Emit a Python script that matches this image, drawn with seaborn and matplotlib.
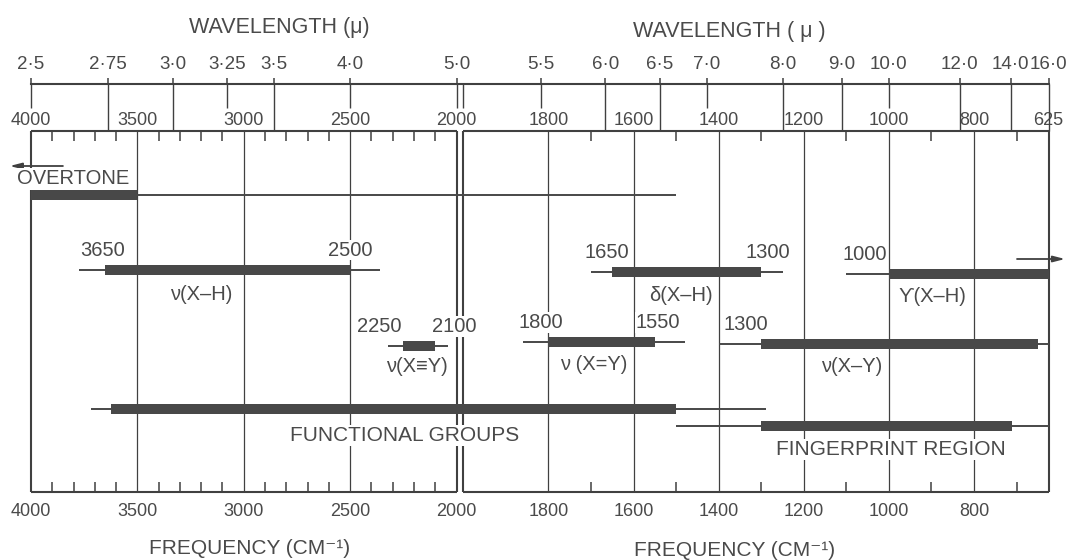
import numpy as np
import pandas as pd
import matplotlib
matplotlib.use("Agg")
import matplotlib.pyplot as plt
import seaborn as sns

# ---------------- data ----------------
WAVELENGTHS = [2.5, 2.75, 3.0, 3.25, 3.5, 4.0, 5.0, 5.5, 6.0, 6.5, 7.0, 8.0, 9.0, 10.0, 12.0, 14.0, 16.0]
WAVELENGTH_LABELS = ["2·5", "2·75", "3·0", "3·25", "3·5", "4·0", "5·0", "5·5", "6·0", "6·5",
                     "7·0", "8·0", "9·0", "10·0", "12·0", "14·0", "16·0"]
LONG_WAVELENGTH_TICKS = [2.75, 3.0, 3.5, 6.0, 6.5, 8.0, 9.0, 12.0, 14.0, 16.0]

FREQ_TOP_LABELS = [4000, 3500, 3000, 2500, 2000, 1800, 1600, 1400, 1200, 1000, 800, 625]
FREQ_BOTTOM_LABELS = [4000, 3500, 3000, 2500, 2000, 1800, 1600, 1400, 1200, 1000, 800]
FREQ_GRID = [3500, 3000, 2500, 1800, 1600, 1400, 1200, 1000, 800]
FREQ_MINOR = [3900, 3800, 3700, 3600, 3400, 3300, 3200, 3100, 2900, 2800, 2700, 2600,
              2400, 2300, 2200, 2100, 1700, 1500, 1300, 1100, 900, 700]
FREQ_MAX, FREQ_BREAK, FREQ_MIN = 4000, 2000, 625

BAND_NAMES = ["OVERTONE", "ν(X–H)", "δ(X–H)", "ϒ(X–H)", "ν(X≡Y)", "ν (X=Y)", "ν(X–Y)",
              "FUNCTIONAL GROUPS", "FINGERPRINT REGION"]
RANGE_HIGH = [4000, 3775, 1700, 1100, 2320, 1860, 1400, 3720, 1500]
CORE_HIGH = [4000, 3650, 1650, 1000, 2250, 1800, 1300, 3625, 1300]
CORE_LOW = [3500, 2500, 1300, 625, 2100, 1550, 650, 1500, 710]
RANGE_LOW = [1500, 2360, 1250, 625, 2040, 1480, 625, 1290, 625]

# ---------------- layout ----------------
BAND_LEVEL = [64.5, 138.6, 141, 143, 215, 211, 213, 278, 295]       # px below box top
NAME_X = [3800, 3200, 1488, 899, 2186, 1693, 1087, 2242, 995]
NAME_DY = [-16.5, 25.4, 23.7, 22, 21, 23, 22.7, 26.5, 23.5]
# (band, end, ha, dx_px)
NUMBER_LABELS = [(1, "high", "center", -3), (1, "low", "center", 0),
                 (2, "high", "center", -5), (2, "low", "center", 7),
                 (3, "high", "right", -2),
                 (4, "high", "right", -2), (4, "low", "left", -3),
                 (5, "high", "center", -8), (5, "low", "center", 3),
                 (6, "high", "right", 7)]
NUMBER_DY = -19.5

FIG_W, FIG_H = 1071, 560
PX_L, PX_R = 31, 1048.5
BOX_TOP, BOX_BOT, WL_LINE = 131, 491.5, 84
GAP, STRETCH = 32.0, 2.0

TEXT = "#4a4a4a"
INK = "#404040"
BAR = "#484848"

sns.set_style("white")
plt.rcParams["font.family"] = ["Liberation Sans", "DejaVu Sans"]


def fwd(v):
    v = np.asarray(v, dtype=float)
    return np.where(v >= FREQ_BREAK, FREQ_MAX - v,
                    (FREQ_MAX - FREQ_BREAK) + GAP + STRETCH * (FREQ_BREAK - v))


def inv(u):
    u = np.asarray(u, dtype=float)
    return np.where(u <= FREQ_MAX - FREQ_BREAK, FREQ_MAX - u,
                    FREQ_BREAK - (u - (FREQ_MAX - FREQ_BREAK) - GAP) / STRETCH)


BREAK_R = np.nextafter(float(FREQ_BREAK), 0.0)

fig = plt.figure(figsize=(FIG_W / 100, FIG_H / 100), dpi=100)
ax = fig.add_axes([PX_L / FIG_W, 1 - BOX_BOT / FIG_H, (PX_R - PX_L) / FIG_W, (BOX_BOT - BOX_TOP) / FIG_H])
axw = fig.add_axes([PX_L / FIG_W, 1 - BOX_TOP / FIG_H, (PX_R - PX_L) / FIG_W, (BOX_TOP - WL_LINE) / FIG_H])
for a in (ax, axw):
    a.set_xscale("function", functions=(fwd, inv))
    a.set_facecolor("none")
HEIGHT = BOX_BOT - BOX_TOP

# ---- band segments via seaborn ----
rows = []
seg = 0
for i in range(len(BAND_NAMES)):
    lvl = BAND_LEVEL[i]
    parts = []
    if RANGE_HIGH[i] != CORE_HIGH[i]:
        parts.append((RANGE_HIGH[i], CORE_HIGH[i], "thin"))
    parts.append((CORE_HIGH[i], CORE_LOW[i], "thick"))
    if RANGE_LOW[i] != CORE_LOW[i]:
        parts.append((CORE_LOW[i], RANGE_LOW[i], "thin"))
    for a0, a1, kind in parts:
        rows.append(dict(freq=a0, level=lvl, seg=seg, kind=kind, band=BAND_NAMES[i]))
        rows.append(dict(freq=a1, level=lvl, seg=seg, kind=kind, band=BAND_NAMES[i]))
        seg += 1
df = pd.DataFrame(rows)
sns.lineplot(data=df, x="freq", y="level", units="seg", estimator=None, size="kind",
             sizes={"thin": 1.4, "thick": 7.2}, color=BAR, sort=False, legend=False,
             ax=ax, solid_capstyle="butt", zorder=5)
ax.set_xlabel("")
ax.set_ylabel("")

# ---- frame, grid ----
ax.vlines(FREQ_GRID, 0, HEIGHT, color=INK, lw=0.9, zorder=1)
ax.vlines([FREQ_MAX, FREQ_BREAK, BREAK_R, FREQ_MIN], 0, HEIGHT, color=INK, lw=1.5, zorder=2, clip_on=False)
for lo, hi in [(FREQ_MAX, FREQ_BREAK), (BREAK_R, FREQ_MIN)]:
    ax.hlines([0, HEIGHT], lo, hi, color=INK, lw=1.5, zorder=2, clip_on=False)
for s in ax.spines.values():
    s.set_visible(False)

# data-increasing limits: the function scale itself puts 4000 on the left
ax.set_xlim(FREQ_MIN, FREQ_MAX)
ax.set_ylim(HEIGHT, 0)
ax.set_yticks([])
ax.set_xticks(FREQ_BOTTOM_LABELS, labels=[str(f) for f in FREQ_BOTTOM_LABELS])
ax.set_xticks(FREQ_MINOR, minor=True)
ax.tick_params(axis="x", which="major", length=0, pad=8, labelsize=13, labelcolor=TEXT)
ax.tick_params(axis="x", which="minor", direction="in", length=7, width=1.1, color=INK,
               top=True, bottom=True)
for f in FREQ_TOP_LABELS:
    ax.annotate(str(f), xy=(f, 1), xycoords=("data", "axes fraction"), xytext=(0, 1.5),
                textcoords="offset points", ha="center", va="bottom", fontsize=13,
                color=TEXT, annotation_clip=False)

# ---- labels ----
for i, name in enumerate(BAND_NAMES):
    big = i >= 7
    ax.text(NAME_X[i], BAND_LEVEL[i] + NAME_DY[i], name, ha="center", va="center",
            fontsize=15 if big else 14.5, color=TEXT, zorder=4, clip_on=False,
            bbox=dict(facecolor="white", edgecolor="none", pad=1.0))
for band, end, ha, dx in NUMBER_LABELS:
    val = CORE_HIGH[band] if end == "high" else CORE_LOW[band]
    ax.annotate(str(val), xy=(val, BAND_LEVEL[band] + NUMBER_DY), xytext=(dx * 0.72, 0),
                textcoords="offset points", ha=ha, va="center", fontsize=14.5, color=TEXT,
                zorder=4, bbox=dict(facecolor="white", edgecolor="none", pad=0.5))

# continuation arrows
arrow = dict(arrowstyle="-|>,head_length=0.7,head_width=0.18", color=INK, lw=1.3,
             shrinkA=0, shrinkB=0)
ax.annotate("", xy=(4100, 35), xytext=(3850, 35), arrowprops=arrow, annotation_clip=False)
ax.annotate("", xy=(586, 128), xytext=(699, 128), arrowprops=arrow, annotation_clip=False)

# ---- wavelength axis ----
axw.set_xlim(FREQ_MIN, FREQ_MAX)
axw.set_ylim(0, 1)
axw.set_yticks([])
for k, s in axw.spines.items():
    s.set_visible(k == "top")
axw.spines["top"].set_linewidth(1.5)
axw.spines["top"].set_color(INK)
wl_pos = [10000.0 / w for w in WAVELENGTHS]
axw.set_xticks(wl_pos, labels=WAVELENGTH_LABELS)
axw.tick_params(axis="x", which="major", top=True, bottom=False, labeltop=True,
                labelbottom=False, direction="out", length=4.5, width=1.1, color=INK,
                pad=3.5, labelsize=13.5, labelcolor=TEXT)
for w, p in zip(WAVELENGTHS, wl_pos):
    lo = 0.0 if w in LONG_WAVELENGTH_TICKS else 0.5
    xs = [p, BREAK_R] if p == FREQ_BREAK else [p]
    axw.vlines(xs, lo, 1.0, color=INK, lw=1.0, clip_on=False)

fig.text(279 / FIG_W, 1 - 27 / FIG_H, "WAVELENGTH (μ)", ha="center", va="center",
         fontsize=15.5, color=TEXT)
fig.text(729 / FIG_W, 1 - 31 / FIG_H, "WAVELENGTH ( μ )", ha="center", va="center",
         fontsize=15.5, color=TEXT)
fig.text(250 / FIG_W, 1 - 549 / FIG_H, "FREQUENCY (CM⁻¹)", ha="center", va="center",
         fontsize=15, color=TEXT)
fig.text(735 / FIG_W, 1 - 550 / FIG_H, "FREQUENCY (CM⁻¹)", ha="center", va="center",
         fontsize=15, color=TEXT)

fig.savefig("out.png", dpi=100, facecolor="white")
